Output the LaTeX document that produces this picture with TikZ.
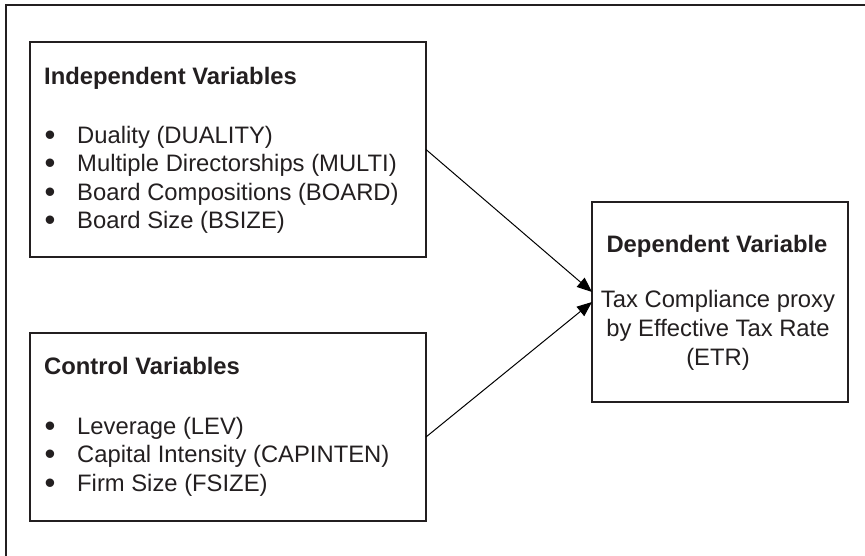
\documentclass[tikz,border=0pt]{standalone}
\usepackage{fontspec}
\setmainfont{Liberation Sans}
\usetikzlibrary{arrows.meta}
\definecolor{ink}{HTML}{231F20}
\begin{document}
\begin{tikzpicture}[x=1pt,y=-1pt,
  box/.style={draw=ink, line width=1.4pt, inner sep=0pt, outer sep=0pt, anchor=north west},
  txt/.style={anchor=base west, inner sep=0pt, text=ink, font=\fontsize{23.8}{28.5}\selectfont},
  ttl/.style={anchor=base west, inner sep=0pt, text=ink, font=\fontsize{23.8}{28.5}\selectfont\bfseries},
  bul/.style={anchor=base, inner sep=0pt, text=ink, font=\fontsize{31}{31}\selectfont},
  ctr/.style={anchor=base, inner sep=0pt, text=ink, font=\fontsize{23.8}{28.5}\selectfont},
  ctrb/.style={anchor=base, inner sep=0pt, text=ink, font=\fontsize{23.8}{28.5}\selectfont\bfseries},
  link/.style={draw=black, line width=1pt, -{Triangle[length=15pt,width=12pt]}}]
\useasboundingbox (0,0) rectangle (865,555);
\draw[ink, line width=1.6pt] (6,560) -- (6,5) -- (870,5);
% boxes
\node[box, minimum width=396pt, minimum height=215pt] (ind) at (30,42) {};
\node[box, minimum width=396pt, minimum height=188pt] (ctl) at (30,333) {};
\node[box, minimum width=256pt, minimum height=200pt] (dep) at (592,202) {};
% independent
\node[ttl] (indT) at (44,84) {Independent Variables};
\node[bul] (b1) at (50,145) {•};
\node[txt] (i1) at (77,143) {Duality (DUALITY)};
\node[bul] (b2) at (50,173.5) {•};
\node[txt] (i2) at (77,171.5) {Multiple Directorships (MULTI)};
\node[bul] (b3) at (50,202) {•};
\node[txt] (i3) at (77,200) {Board Compositions (BOARD)};
\node[bul] (b4) at (50,230.5) {•};
\node[txt] (i4) at (77,228.5) {Board Size (BSIZE)};
% control
\node[ttl] (ctlT) at (44,374) {Control Variables};
\node[bul] (c1b) at (50,436) {•};
\node[txt] (c1) at (77,434) {Leverage (LEV)};
\node[bul] (c2b) at (50,464.5) {•};
\node[txt] (c2) at (77,462.5) {Capital Intensity (CAPINTEN)};
\node[bul] (c3b) at (50,493) {•};
\node[txt] (c3) at (77,491) {Firm Size (FSIZE)};
% dependent
\node[ctrb] (depT) at (717,252) {Dependent Variable};
\node[ctr] (d1) at (718,307) {Tax Compliance proxy};
\node[ctr] (d2) at (718,336) {by Effective Tax Rate};
\node[ctr] (d3) at (718,365) {(ETR)};
% arrows
\draw[link] (ind.east) -- ([yshift=10pt]dep.west);
\draw[link] ([yshift=-10pt]ctl.east) -- (dep.west);
\end{tikzpicture}
\end{document}
